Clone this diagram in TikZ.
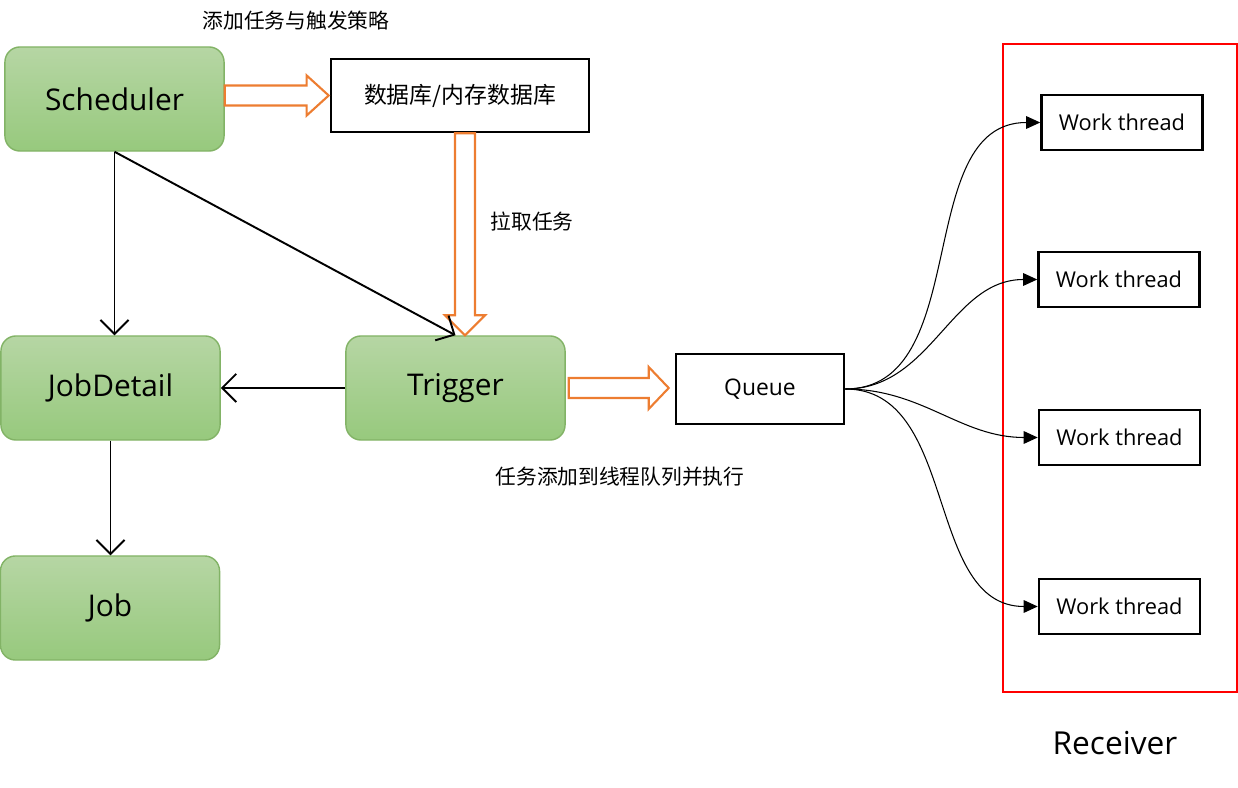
\documentclass[tikz,border=0pt]{standalone}
\usepackage{fontspec}
\setmainfont{Open Sans}
\newfontfamily\cjk{Noto Sans CJK SC}
\usetikzlibrary{arrows.meta,calc}

\definecolor{boxgreen}{RGB}{130,179,102}
\definecolor{gtop}{RGB}{182,214,164}
\definecolor{gbot}{RGB}{151,201,125}
\definecolor{flexorange}{RGB}{237,125,49}

\tikzset{
  greenbox/.style={draw=boxgreen, line width=0.4pt, rounded corners=0.15cm,
    top color=gtop, bottom color=gbot, minimum width=2.19cm, minimum height=1.04cm,
    font=\fontsize{8.5pt}{10pt}\selectfont},
  plainbox/.style={draw=black, line width=0.7pt, fill=white},
  wtbox/.style={plainbox, minimum width=1.61cm, minimum height=0.55cm,
    font=\fontsize{6.2pt}{7.5pt}\selectfont},
  fatarrow/.style={draw=flexorange, line width=0.6pt, fill=white, line join=miter},
  conn/.style={draw=black, line width=0.55pt, -{Straight Barb[length=4pt,width=8pt]}},
  thinconn/.style={draw=black, line width=0.3pt, -{Triangle[length=4pt,width=3.6pt]}},
  note/.style={font=\cjk\fontsize{5.9pt}{7pt}\selectfont}
}

\begin{document}
\begin{tikzpicture}[x=0.01cm,y=-0.01cm]
\useasboundingbox (0,0) rectangle (1238,788);

% left part
\node[greenbox] (sched) at (114.5,99) {Scheduler};
\node[plainbox, minimum width=2.58cm, minimum height=0.73cm,
      font=\cjk\fontsize{6.5pt}{8pt}\selectfont] (db) at (460,95.5) {数据库/内存数据库};
\node[greenbox] (jobdetail) at (110.5,388) {JobDetail};
\node[greenbox] (trigger) at (455.5,388) {Trigger};
\node[greenbox] (job) at (110,608) {Job};
\node[plainbox, minimum width=1.68cm, minimum height=0.70cm,
      font=\fontsize{6.5pt}{8pt}\selectfont] (queue) at (760,389) {Queue};

\node[note] (addlabel) at (296,21) {添加任务与触发策略};
\node[note] (pulllabel) at (532,222) {拉取任务};
\node[note] (runlabel) at (620,477) {任务添加到线程队列并执行};

% receiver
\draw[red, line width=0.6pt] (1003,44) rectangle (1237,692);
\node[font=\fontsize{9pt}{11pt}\selectfont] (receiver) at (1115,743) {Receiver};
\node[wtbox] (wt1) at (1122,122.5) {Work thread};
\node[wtbox] (wt2) at (1119,279.5) {Work thread};
\node[wtbox] (wt3) at (1119.5,437.5) {Work thread};
\node[wtbox] (wt4) at (1119.5,606.5) {Work thread};

% orange arrows
\coordinate (a1) at (sched.east |- db.west);
\coordinate (a1tip) at ($(db.west)+(-1,0)$);
\draw[fatarrow] ($(a1)+(0,-10)$) -- ($(a1tip)+(-22,-10)$) -- ($(a1tip)+(-22,-20)$)
  -- (a1tip) -- ($(a1tip)+(-22,20)$) -- ($(a1tip)+(-22,10)$) -- ($(a1)+(0,10)$) -- cycle;

\coordinate (a2) at ($(db.south)+(5,0)$);
\coordinate (a2tip) at (a2 |- trigger.north);
\draw[fatarrow] ($(a2)+(-10,0)$) -- ($(a2tip)+(-10,-20)$) -- ($(a2tip)+(-20,-20)$)
  -- (a2tip) -- ($(a2tip)+(20,-20)$) -- ($(a2tip)+(10,-20)$) -- ($(a2)+(10,0)$) -- cycle;

\coordinate (a3) at ($(trigger.east)+(3,0)$);
\coordinate (a3tip) at ($(queue.west |- trigger.east)+(-6,0)$);
\draw[fatarrow] ($(a3)+(0,-10)$) -- ($(a3tip)+(-20,-10)$) -- ($(a3tip)+(-20,-21)$)
  -- (a3tip) -- ($(a3tip)+(-20,21)$) -- ($(a3tip)+(-20,10)$) -- ($(a3)+(0,10)$) -- cycle;

% black connectors
\draw[conn] (sched.south) -- (sched.south |- jobdetail.north);
\draw[conn] (sched.south) -- (trigger.north);
\draw[conn] (trigger.west) -- (jobdetail.east);
\draw[conn] (jobdetail.south) -- (jobdetail.south |- job.north);

\foreach \w in {wt1,wt2,wt3,wt4}
  \draw[thinconn] (queue.east) to[out=0,in=180] (\w.west);
\end{tikzpicture}
\end{document}
